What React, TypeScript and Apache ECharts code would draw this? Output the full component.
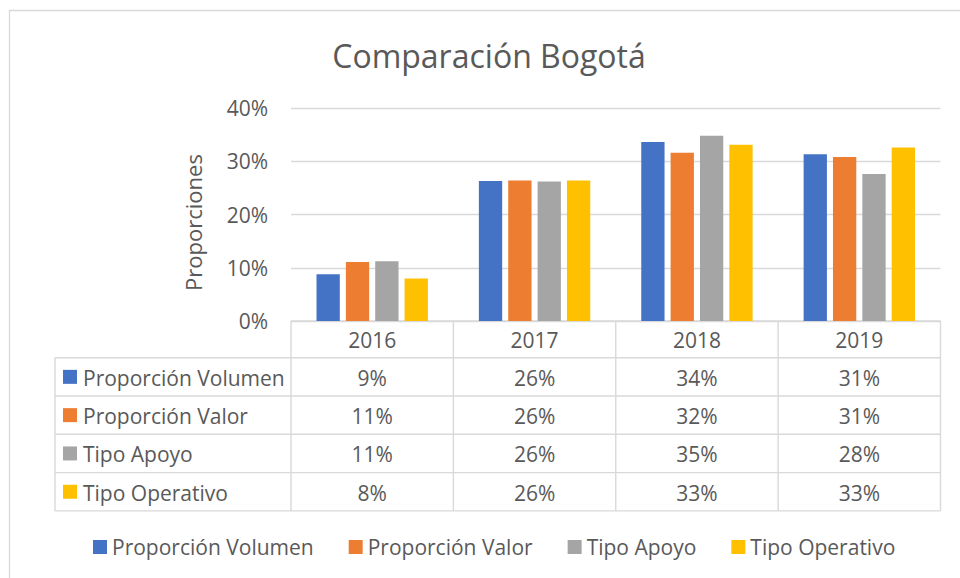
import React, { useEffect, useRef } from "react";
import * as echarts from "echarts";

const years = ["2016", "2017", "2018", "2019"];
const seriesNames = ["Proporción Volumen", "Proporción Valor", "Tipo Apoyo", "Tipo Operativo"];
const propVolumen = [0.088, 0.263, 0.336, 0.313];
const propValor = [0.111, 0.264, 0.316, 0.308];
const tipoApoyo = [0.112, 0.262, 0.348, 0.276];
const tipoOperativo = [0.080, 0.264, 0.331, 0.326];
const seriesValues = [propVolumen, propValor, tipoApoyo, tipoOperativo];
const colors = ["#4472C4", "#ED7D31", "#A5A5A5", "#FFC000"];
const titleText = "Comparación Bogotá";
const yAxisTitle = "Proporciones";

const FONT = "'Open Sans', sans-serif";
const TEXT = "#595959";
const LINE = "#D9D9D9";
const FS = 21;

export default function App() {
  const ref = useRef<HTMLDivElement>(null);
  useEffect(() => {
    if (!ref.current) return;
    const chart = echarts.init(ref.current, undefined, { renderer: "svg" });

    const gridLeft = 291;
    const gridRight = 940.5;
    const gridTop = 108;
    const gridBottom = 321;
    const catW = (gridRight - gridLeft) / years.length;
    const tableLeft = 55;
    const headerBottom = 357.7;
    const rowH = 38.3;
    const tableBottom = headerBottom + rowH * seriesNames.length;

    const graphics: any[] = [];
    graphics.push({
      type: "rect",
      shape: { x: 9.5, y: 10.5, width: 980, height: 600 },
      style: { fill: "none", stroke: LINE, lineWidth: 1.3 },
      silent: true,
    });
    graphics.push({
      type: "text",
      x: 489,
      y: 55,
      style: { text: titleText, font: `32px ${FONT}`, fill: TEXT, align: "center", verticalAlign: "middle" },
    });
    graphics.push({
      type: "text",
      x: 193,
      y: 222.5,
      rotation: Math.PI / 2,
      style: { text: yAxisTitle, font: `22px ${FONT}`, fill: TEXT, align: "center", verticalAlign: "middle" },
    });
    const hline = (y: number, x1: number, x2: number) =>
      graphics.push({ type: "line", shape: { x1, y1: y, x2, y2: y }, style: { stroke: LINE, lineWidth: 1.4 }, silent: true });
    const vline = (x: number, y1: number, y2: number) =>
      graphics.push({ type: "line", shape: { x1: x, y1, x2: x, y2 }, style: { stroke: LINE, lineWidth: 1.4 }, silent: true });

    hline(gridBottom, gridLeft, gridRight);
    for (let r = 0; r <= seriesNames.length; r++) {
      hline(headerBottom + r * rowH, tableLeft, gridRight);
    }
    vline(tableLeft, headerBottom, tableBottom);
    for (let c = 0; c <= years.length; c++) {
      vline(gridLeft + c * catW, gridBottom, tableBottom);
    }
    years.forEach((yr, c) => {
      graphics.push({
        type: "text",
        x: gridLeft + (c + 0.5) * catW,
        y: (gridBottom + headerBottom) / 2 + 1,
        style: { text: yr, font: `${FS}px ${FONT}`, fill: TEXT, align: "center", verticalAlign: "middle" },
      });
    });
    seriesNames.forEach((name, r) => {
      const cy = headerBottom + (r + 0.5) * rowH;
      graphics.push({
        type: "rect",
        shape: { x: 63, y: cy - 7, width: 14, height: 14 },
        style: { fill: colors[r] },
      });
      graphics.push({
        type: "text",
        x: 83,
        y: cy + 1,
        style: { text: name, font: `${FS}px ${FONT}`, fill: TEXT, align: "left", verticalAlign: "middle" },
      });
      seriesValues[r].forEach((v, c) => {
        graphics.push({
          type: "text",
          x: gridLeft + (c + 0.5) * catW,
          y: cy + 1,
          style: { text: Math.round(v * 100) + "%", font: `${FS}px ${FONT}`, fill: TEXT, align: "center", verticalAlign: "middle" },
        });
      });
    });

    chart.setOption({
      animation: false,
      backgroundColor: "#ffffff",
      textStyle: { fontFamily: FONT },
      color: colors,
      grid: {
        left: gridLeft,
        right: 960 - gridRight,
        top: gridTop,
        bottom: 578 - gridBottom,
        containLabel: false,
        outerBoundsMode: "none",
      },
      legend: {
        data: seriesNames,
        left: 93,
        top: 536.5,
        padding: 0,
        icon: "rect",
        itemWidth: 14,
        itemHeight: 14,
        itemGap: 35,
        textStyle: { fontSize: FS, color: TEXT, fontFamily: FONT },
      },
      xAxis: {
        type: "category",
        data: years,
        axisLabel: { show: false },
        axisTick: { show: false },
        axisLine: { show: false },
      },
      yAxis: {
        type: "value",
        min: 0,
        max: 0.4,
        interval: 0.1,
        axisLabel: {
          formatter: (v: number) => Math.round(v * 100) + "%",
          fontSize: FS,
          color: TEXT,
          margin: 23,
          fontFamily: FONT,
        },
        axisLine: { show: false },
        axisTick: { show: false },
        splitLine: { lineStyle: { color: LINE, width: 1.3 } },
      },
      series: seriesNames.map((name, i) => ({
        name,
        type: "bar",
        data: seriesValues[i],
        barWidth: 23.3,
        barGap: "26%",
        itemStyle: { color: colors[i] },
      })),
      graphic: graphics,
    });
    return () => chart.dispose();
  }, []);
  return (
    <div
      ref={ref}
      style={{ position: "fixed", left: 0, top: 0, width: 960, height: 578, background: "#fff" }}
    />
  );
}
